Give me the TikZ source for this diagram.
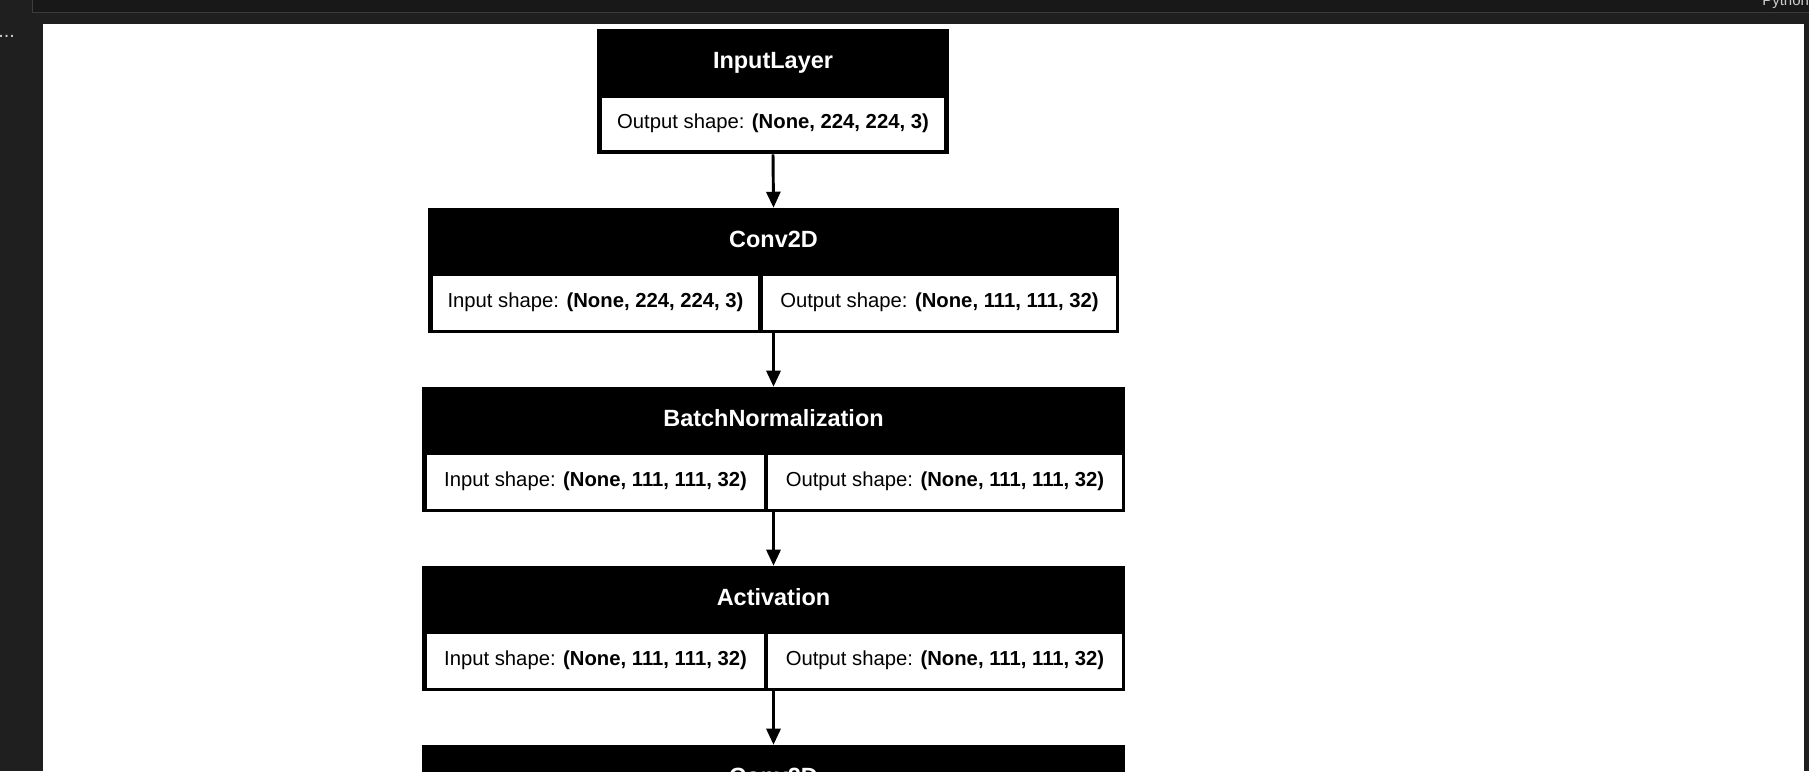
\documentclass[tikz,border=0pt]{standalone}
\usepackage{fontspec}
\setmainfont{Liberation Sans}
\usetikzlibrary{fit,arrows.meta}
\definecolor{bgdark}{HTML}{1F1F1F}
\definecolor{bardark}{HTML}{181818}
\definecolor{barline}{HTML}{3C3C3C}
\definecolor{uitext}{HTML}{CCCCCC}
\newcommand{\ttlfont}{\fontsize{17.6pt}{20pt}\selectfont\bfseries}
\newcommand{\cellfont}{\fontsize{15.2pt}{18pt}\selectfont}
\tikzset{
  frame/.style={fill=black, draw=none, inner sep=0pt},
  cell/.style={fill=white, draw=none, inner sep=0pt},
  celltext/.style={inner sep=0pt, font=\cellfont,
    text height=0.73em, text depth=0.21em},
  ttl/.style={text=white, inner sep=0pt, font=\ttlfont,
    text height=0.73em, text depth=0.21em},
  flow/.style={line width=2.2pt, -{Triangle[width=10.5pt,length=12pt]}},
}
\begin{document}
\begin{tikzpicture}[x=0.75pt,y=-0.75pt]
\useasboundingbox (0,0) rectangle (1809,771);
\begin{scope}
\clip (0,0) rectangle (1809,771);
% editor chrome
\fill[bgdark] (0,0) rectangle (1809,771);
\fill[bardark] (32,-2) rectangle (1809,12);
\draw[barline, line width=0.75pt] (32,-2) -- (32,12) -- (1809,12);
\node[anchor=base west, inner sep=0pt, text=uitext,
  font=\fontsize{11.25pt}{13pt}\selectfont] (lang) at (1762,5) {Python};
\node[anchor=base west, inner sep=0pt, text=uitext,
  font=\fontsize{15pt}{18pt}\selectfont] (more) at (-2,37) {...};
\fill[white] (43,24) rectangle (1804,771);

% Layer 1: InputLayer
\node[frame, fit={(597,29) (949,154)}] (L1) {};
\node[cell, fit={(602,98) (944,150)}] (L1o) {};
\node[celltext] (L1ot) at ([yshift=-1pt]L1o.center) {Output shape: \textbf{(None, 224, 224, 3)}};
\node[ttl] (L1t) at (773,65) {InputLayer};

% Layer 2: Conv2D
\node[frame, fit={(428,208) (1119,333)}] (L2) {};
\node[cell, fit={(433,276) (758,330)}] (L2i) {};
\node[cell, fit={(763,276) (1116,330)}] (L2o) {};
\node[celltext] (L2it) at ([yshift=-1pt]L2i.center) {Input shape: \textbf{(None, 224, 224, 3)}};
\node[celltext] (L2ot) at ([yshift=-1pt]L2o.center) {Output shape: \textbf{(None, 111, 111, 32)}};
\node[ttl] (L2t) at (773.5,244.5) {Conv2D};

% Layer 3: BatchNormalization
\node[frame, fit={(422,387) (1125,512)}] (L3) {};
\node[cell, fit={(427,455) (764,509)}] (L3i) {};
\node[cell, fit={(768,455) (1122,509)}] (L3o) {};
\node[celltext] (L3it) at ([yshift=-1pt]L3i.center) {Input shape: \textbf{(None, 111, 111, 32)}};
\node[celltext] (L3ot) at ([yshift=-1pt]L3o.center) {Output shape: \textbf{(None, 111, 111, 32)}};
\node[ttl] (L3t) at (773.5,423) {BatchNormalization};

% Layer 4: Activation
\node[frame, fit={(422,566) (1125,691)}] (L4) {};
\node[cell, fit={(427,634) (764,688)}] (L4i) {};
\node[cell, fit={(768,634) (1122,688)}] (L4o) {};
\node[celltext] (L4it) at ([yshift=-1pt]L4i.center) {Input shape: \textbf{(None, 111, 111, 32)}};
\node[celltext] (L4ot) at ([yshift=-1pt]L4o.center) {Output shape: \textbf{(None, 111, 111, 32)}};
\node[ttl] (L4t) at (773.5,602.5) {Activation};

% Layer 5: Conv2D (cut off)
\node[frame, fit={(422,745) (1125,870)}] (L5) {};
\node[ttl] (L5t) at (773.5,781.5) {Conv2D};

% connectors
\draw[flow] (L1.south) -- (L2.north);
\draw[flow] (L2.south) -- (L3.north);
\draw[flow] (L3.south) -- (L4.north);
\draw[flow] (L4.south) -- (L5.north);
\end{scope}
\end{tikzpicture}
\end{document}
